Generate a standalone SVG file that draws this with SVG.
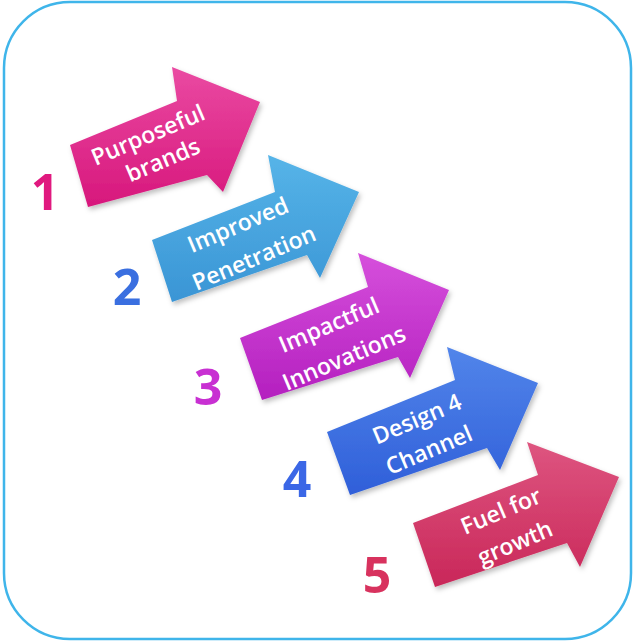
<svg xmlns="http://www.w3.org/2000/svg" width="634" height="643" viewBox="0 0 634 643">
<defs>
<linearGradient id="g1" x1="0" y1="0" x2="0" y2="1"><stop offset="0" stop-color="#ea4aa2"/><stop offset="1" stop-color="#d7177c"/></linearGradient>
<linearGradient id="g2" x1="0" y1="0" x2="0" y2="1"><stop offset="0" stop-color="#56b4e8"/><stop offset="1" stop-color="#3a95d5"/></linearGradient>
<linearGradient id="g3" x1="0" y1="0" x2="0" y2="1"><stop offset="0" stop-color="#d650dc"/><stop offset="1" stop-color="#b41fbf"/></linearGradient>
<linearGradient id="g4" x1="0" y1="0" x2="0" y2="1"><stop offset="0" stop-color="#5285ea"/><stop offset="1" stop-color="#2f5fd9"/></linearGradient>
<linearGradient id="g5" x1="0" y1="0" x2="0" y2="1"><stop offset="0" stop-color="#de5580"/><stop offset="1" stop-color="#c92759"/></linearGradient>
<filter id="sh" x="-10%" y="-10%" width="130%" height="130%"><feDropShadow dx="2" dy="3" stdDeviation="2.5" flood-color="#000" flood-opacity="0.25"/></filter>
</defs>
<style>
.lbl{font-family:"Open Sans","Liberation Sans",sans-serif;font-weight:600;font-size:23px;fill:#fff;text-anchor:middle}
.num{font-family:"Open Sans","Liberation Sans",sans-serif;font-weight:700;font-size:50px;text-anchor:middle}
.arr{filter:url(#sh)}
</style>
<rect x="4" y="2" width="627" height="637" rx="66" ry="66" fill="#fff" stroke="#3fb5ea" stroke-width="2.5"/>
<g id="connectors"/>
<g id="n1">
<polygon class="arr" fill="url(#g1)" points="70,145 177,101 172,67 260,102 223,192 207,175 88,207"/>
<text class="lbl" transform="rotate(-23 148 135)" x="148" y="143">Purposeful</text>
<text class="lbl" transform="rotate(-23 163 160)" x="163" y="168">brands</text>
<text class="num" x="45" y="210" fill="#e0197f">1</text>
</g>
<g id="n2">
<polygon class="arr" fill="url(#g2)" points="152,240 275,192 268,155 359,192 320,278 307,255 172,302"/>
<text class="lbl" transform="rotate(-23 238 225)" x="238" y="233">Improved</text>
<text class="lbl" transform="rotate(-23 254 258)" x="254" y="266">Penetration</text>
<text class="num" x="127" y="305" fill="#3a6fe0">2</text>
</g>
<g id="n3">
<polygon class="arr" fill="url(#g3)" points="240,338 368,287 358,253 449,290 410,378 398,357 262,400"/>
<text class="lbl" transform="rotate(-23 329 325)" x="329" y="333">Impactful</text>
<text class="lbl" transform="rotate(-23 344 358)" x="344" y="366">Innovations</text>
<text class="num" x="208" y="405" fill="#c830d2">3</text>
</g>
<g id="n4">
<polygon class="arr" fill="url(#g4)" points="327,432 455,380 447,347 538,383 500,470 487,448 350,495"/>
<text class="lbl" transform="rotate(-23 417 419)" x="417" y="427">Design 4</text>
<text class="lbl" transform="rotate(-23 429 450)" x="429" y="458">Channel</text>
<text class="num" x="297" y="497" fill="#3b67e6">4</text>
</g>
<g id="n5">
<polygon class="arr" fill="url(#g5)" points="413,523 538,475 527,442 619,477 580,567 567,543 435,587"/>
<text class="lbl" transform="rotate(-23 501 511)" x="501" y="519">Fuel for</text>
<text class="lbl" transform="rotate(-23 515 543)" x="515" y="551">growth</text>
<text class="num" x="377" y="593" fill="#d8325e">5</text>
</g>
</svg>
